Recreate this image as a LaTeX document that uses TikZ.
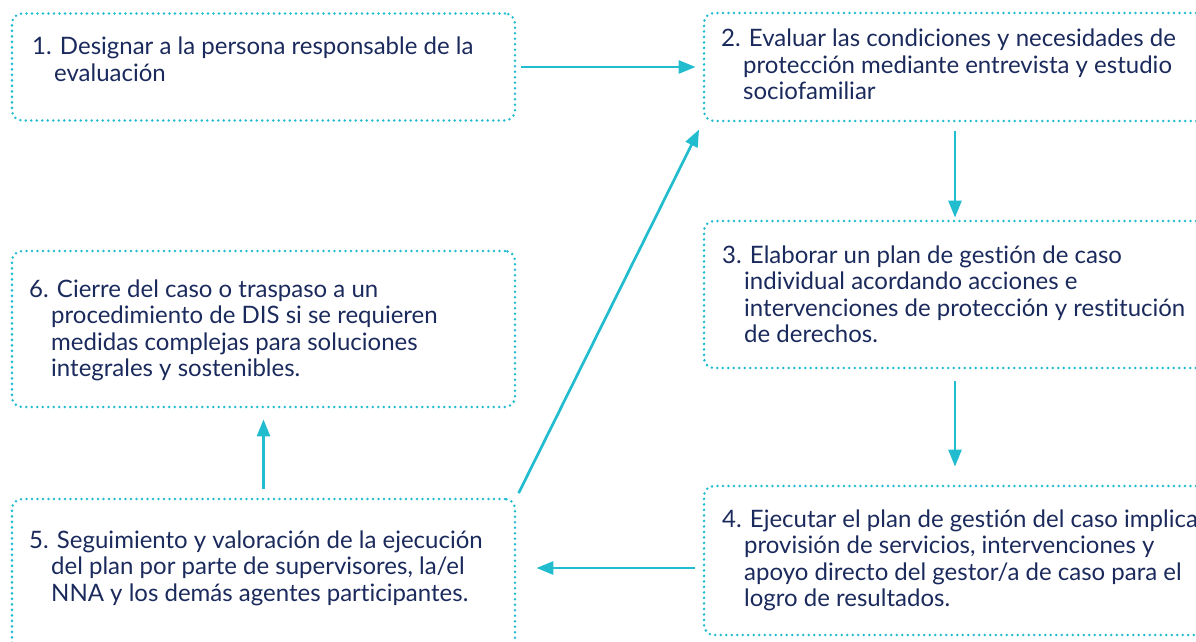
\documentclass[tikz,border=0pt]{standalone}
\usepackage{fontspec}
\setmainfont{Lato}[Ligatures=NoCommon]
\usetikzlibrary{arrows.meta}
\definecolor{teal}{HTML}{22BCCF}
\definecolor{navy}{HTML}{1B2A5C}
\newcommand{\boxtext}[1]{\parbox[t]{560pt}{\raggedright\let\\\newline\hangindent=22pt\hangafter=1 #1}}
\begin{document}
\begin{tikzpicture}[x=1pt,y=-1pt,
  stepbox/.style={draw=teal, line width=2.8pt, dash pattern=on 0pt off 5.5pt, line cap=round,
    rounded corners=10pt, inner sep=0pt, minimum width=#1},
  stepbox/.default=503pt,
  steptext/.style={anchor=base west, inner sep=0pt, text=navy, font=\fontsize{24}{26.5}\selectfont},
  arr/.style={draw=teal, line width=2.7pt, -{Triangle[length=17pt,width=13pt]}}
]
\useasboundingbox (0,0) rectangle (1196,642);
\clip (0,0) rectangle (1196,642);
% boxes
\node[stepbox, minimum height=107pt] (b1) at (263.5,67) {};
\node[stepbox=502pt, minimum height=108pt] (b2) at (955,67) {};
\node[stepbox=502pt, minimum height=147pt] (b3) at (955,294.5) {};
\node[stepbox=502pt, minimum height=149pt] (b4) at (955,560.5) {};
\node[stepbox, minimum height=161pt] (b5) at (263.5,579.5) {};
\node[stepbox, minimum height=156pt] (b6) at (263.5,329) {};
% texts
\node[steptext] (t1) at (32,55) {\boxtext{1. Designar a la persona responsable de la\\evaluación}};
\node[steptext] (t2) at (721,47) {\boxtext{2. Evaluar las condiciones y necesidades de\\protección mediante entrevista y estudio\\sociofamiliar}};
\node[steptext] (t3) at (722,263) {\boxtext{3. Elaborar un plan de gestión de caso\\individual acordando acciones e\\intervenciones de protección y restitución\\de derechos.}};
\node[steptext] (t4) at (722,527) {\boxtext{4. Ejecutar el plan de gestión del caso implica\\provisión de servicios, intervenciones y\\apoyo directo del gestor/a de caso para el\\logro de resultados.}};
\node[steptext] (t5) at (29,548) {\boxtext{5. Seguimiento y valoración de la ejecución\\del plan por parte de supervisores, la/el\\NNA y los demás agentes participantes.}};
\node[steptext] (t6) at (29,297) {\boxtext{6. Cierre del caso o traspaso a un\\procedimiento de DIS si se requieren\\medidas complejas para soluciones\\integrales y sostenibles.}};
% connectors
\draw[arr, shorten <=5pt, shorten >=7pt] (b1.east) -- (b2.west);
\draw[arr, shorten <=9pt, shorten >=2pt] (b2.south) -- (b3.north);
\draw[arr, shorten <=12pt, shorten >=18pt] (b3.south) -- (b4.north);
\draw[arr, shorten <=8pt, shorten >=20pt] (b4.west |- 0,568) -- (b5.east |- 0,568);
\draw[arr, shorten <=9pt, shorten >=11pt] (b5.north) -- (b6.south);
\draw[arr, shorten <=5pt, shorten >=8pt] (b5.north east) -- (b2.south west);
\end{tikzpicture}
\end{document}
